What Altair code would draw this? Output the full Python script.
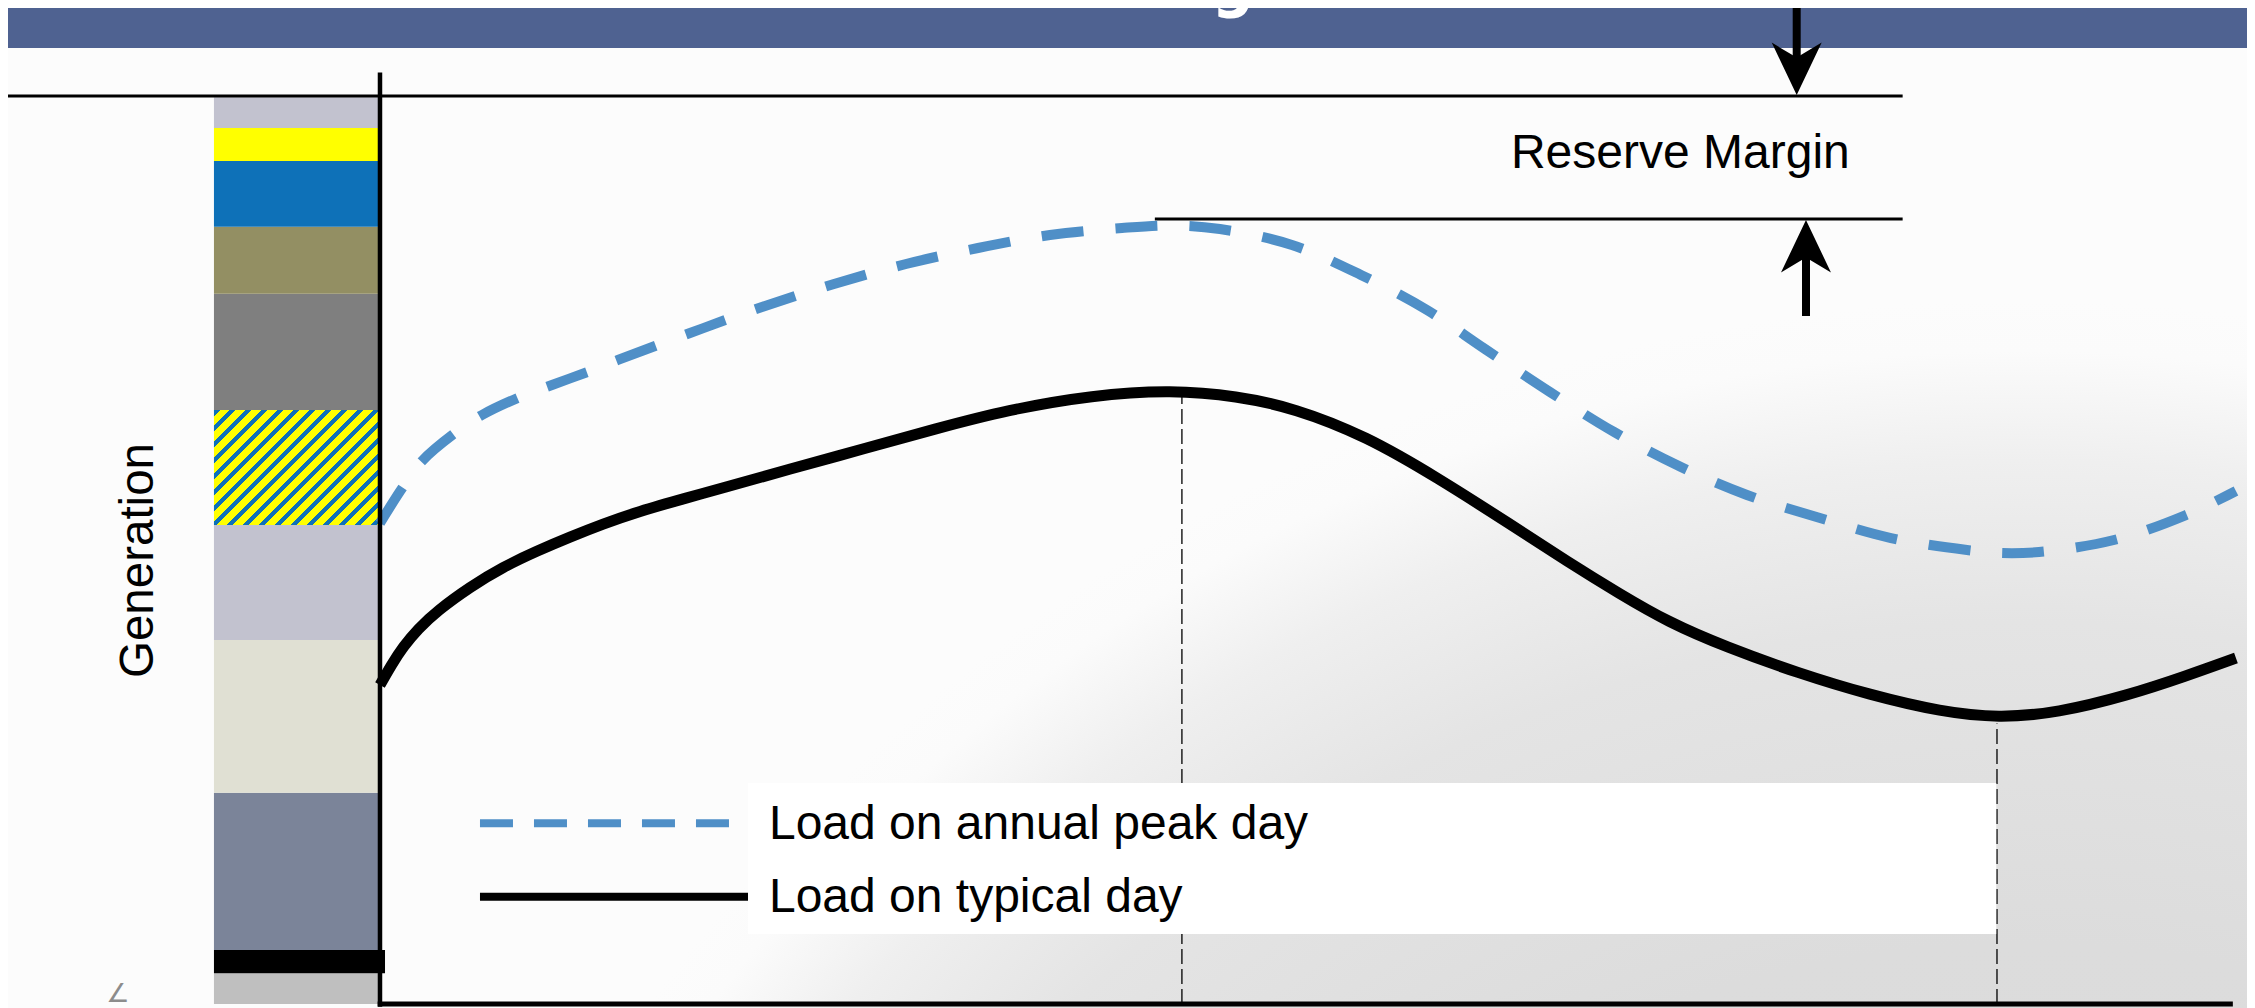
import altair as alt
import pandas as pd

# ---------------- drawing frame ----------------
W, H = 2239, 1000
# x = hour of the day, y = % of installed generating capacity
X_LO, X_HI = -4.8103, 24.143
Y_LO, Y_HI = -0.4405, 109.692
PX_PER_H = W / (X_HI - X_LO)
PX_PER_L = H / (Y_HI - Y_LO)

# ---------------- data ----------------
hours_peak = [0.0, 0.297, 0.543, 0.970, 1.319, 1.810, 2.224, 2.716, 3.078,
              4.009, 4.940, 5.871, 6.802, 7.733, 8.664, 9.595, 10.280, 10.862,
              11.793, 12.685, 13.539, 14.289, 15.129, 15.957, 16.797, 17.677,
              18.621, 19.539, 20.522, 20.948, 21.453, 22.422, 23.353, 24.0]
load_peak = [52.97, 56.94, 59.80, 62.89, 64.87, 66.85, 68.17, 69.71, 70.93,
             73.90, 76.76, 79.30, 81.50, 83.26, 84.69, 85.46, 85.74, 85.35,
             83.59, 80.29, 76.43, 72.14, 67.40, 63.00, 59.25, 56.06,
             53.52, 51.32, 50.00, 49.67, 49.78, 51.10, 53.85, 56.50]

hours_typical = [0.0, 0.155, 0.297, 0.491, 0.737, 1.164, 1.591, 2.030, 2.457, 2.884,
                 3.323, 4.009, 4.384, 5.302, 6.246, 7.177, 8.108, 9.220, 10.241,
                 11.082, 11.819, 12.750, 13.681, 14.612, 15.362, 16.034, 16.655,
                 17.405, 18.336, 19.267, 20.198, 20.935, 21.685, 22.616, 23.353, 24.0]
load_typical = [35.13, 37.44, 39.32, 41.30, 43.28, 45.93, 48.13, 49.89, 51.43, 52.86,
                54.19, 55.84, 56.72, 58.92, 61.12, 63.33, 65.42, 67.07, 67.62,
                66.96, 65.64, 62.56, 57.93, 52.86, 48.68, 45.15, 42.07,
                39.32, 36.45, 34.03, 32.16, 31.50, 32.05, 34.03, 36.12, 38.11]

# generation stack (bottom -> top), in % of capacity
stack_bottom = [0.0, 3.38, 5.95, 23.27, 40.09, 52.75, 65.42, 78.23, 85.61, 92.84, 96.48]
stack_top = [3.38, 5.95, 23.27, 40.09, 52.75, 65.42, 78.23, 85.61, 92.84, 96.48, 99.86]
stack_hatched = [False, False, False, False, False, True, False, False, False, False, False]
stack_right = [0.0, 0.065, 0.0, 0.0, 0.0, 0.0, 0.0, 0.0, 0.0, 0.0, 0.0]
stack_colors = ["#BFBFBF", "#000000", "#7B8499", "#E0E0D3", "#C2C2CF", "#FFFF00",
                "#7F7F7F", "#938F63", "#0E71B8", "#FFFF00", "#C2C2CF"]
STACK_LEFT = -2.147

# reference levels
capacity_level = 100.0       # installed capacity
peak_level = 86.45           # annual peak load
capacity_line_h = [-6.0, 19.69]
peak_line_h = [10.02, 19.69]
peak_hour_typical = 10.37
min_hour_typical = 20.91
drop_top = [66.9, 30.9]

# arrows (reserve margin)
arrow_h = [18.32, 18.44]
arrow_tip = [100.1, 86.34]
arrow_tail = [112.0, 75.77]

# legend
legend_box_h = [4.759, 20.90]
legend_box_l = [7.71, 24.34]
legend_sample_h = [1.293, 4.759]
legend_labels = ["Load on annual peak day", "Load on typical day"]
legend_sample_l = [19.90, 11.82]
legend_text_l = [18.17, 10.13]
legend_text_h = 5.03

title_text = "Load Forecasting \u2013 Conclusion"
banner_bottom = 105.29

# ---------------- styles ----------------
FONT = "Liberation Sans, Arial, sans-serif"
BLUE_LINE = "#4F8FC7"
BANNER = "#4F6291"

XS = alt.Scale(domain=[X_LO, X_HI], nice=False, zero=False)
YS = alt.Scale(domain=[Y_LO, Y_HI], nice=False, zero=False)


def X(f):
    return alt.X(f, type="quantitative", scale=XS, axis=None)


def Y(f):
    return alt.Y(f, type="quantitative", scale=YS, axis=None)


def rect_layer(df, **mark):
    return alt.Chart(df).mark_rect(**mark).encode(
        x=X("x1"), x2=alt.X2("x2"), y=Y("y1"), y2=alt.Y2("y2"))


def hrule(h1, h2, l, **mark):
    df = pd.DataFrame({"h1": [h1], "h2": [h2], "l": [l]})
    return alt.Chart(df).mark_rule(**mark).encode(x=X("h1"), x2=alt.X2("h2"), y=Y("l"))


def vrule(h, l1, l2, **mark):
    df = pd.DataFrame({"h": [h], "l1": [l1], "l2": [l2]})
    return alt.Chart(df).mark_rule(**mark).encode(x=X("h"), y=Y("l1"), y2=alt.Y2("l2"))


def text(h, l, s, **mark):
    df = pd.DataFrame({"h": [h], "l": [l], "t": [s]})
    return alt.Chart(df).mark_text(**mark).encode(x=X("h"), y=Y("l"), text="t:N")


# background: soft grey glow towards the lower right
bg_grad = {
    "gradient": "radial", "x1": 0.9, "y1": 1.164, "r1": 0,
    "x2": 0.9, "y2": 1.164, "r2": 0.757,
    "stops": [
        {"offset": 0.0, "color": "#D8D8D8"},
        {"offset": 0.62, "color": "#DCDCDC"},
        {"offset": 0.81, "color": "#E4E4E4"},
        {"offset": 0.905, "color": "#EFEFEF"},
        {"offset": 0.97, "color": "#FBFBFB"},
        {"offset": 1.0, "color": "#FCFCFC"},
    ],
}
background = rect_layer(pd.DataFrame({"x1": [X_LO], "x2": [X_HI], "y1": [Y_LO], "y2": [Y_HI]}),
                        fill=bg_grad, strokeWidth=0)

banner = rect_layer(pd.DataFrame({"x1": [X_LO - 1], "x2": [X_HI + 1],
                                  "y1": [banner_bottom], "y2": [Y_HI + 5]}),
                    color=BANNER, strokeWidth=0)
title = text(10.40, 110.13, title_text, font="Liberation Sans Narrow, DejaVu Sans Condensed, sans-serif",
             fontSize=66, fontWeight="bold", color="white", align="center", baseline="alphabetic")

# solid stack blocks
solid = pd.DataFrame({
    "x1": [STACK_LEFT] * len(stack_bottom), "x2": stack_right,
    "y1": stack_bottom, "y2": stack_top, "c": stack_colors, "hatch": stack_hatched})
solid_df = solid[~solid["hatch"]]
stack = alt.Chart(solid_df).mark_rect(strokeWidth=0).encode(
    x=X("x1"), x2=alt.X2("x2"), y=Y("y1"), y2=alt.Y2("y2"),
    color=alt.Color("c:N", scale=None))

# hatched block: diagonal yellow / blue stripes via a hard-stop linear gradient
hrow = solid[solid["hatch"]].iloc[0]
w_px = (hrow["x2"] - hrow["x1"]) * PX_PER_H
h_px = (hrow["y2"] - hrow["y1"]) * PX_PER_L
ratio = h_px / w_px
a = (1 + ratio) / (1 + ratio ** 2)
span_px = (w_px + h_px) / 2 ** 0.5
period = 11.3 / span_px
stops = []
t = 0.0
while t < 1.0 - 1e-9:
    b_end = min(t + 0.38 * period, 1.0)
    y_end = min(t + period, 1.0)
    stops += [{"offset": round(t, 5), "color": "#0E71B8"},
              {"offset": round(b_end, 5), "color": "#0E71B8"},
              {"offset": round(b_end, 5), "color": "#FFFF00"},
              {"offset": round(y_end, 5), "color": "#FFFF00"}]
    t += period
hatch_grad = {"gradient": "linear", "x1": 0, "y1": 0, "x2": a, "y2": a * ratio, "stops": stops}
hatched = rect_layer(pd.DataFrame({"x1": [hrow["x1"]], "x2": [hrow["x2"]],
                                   "y1": [hrow["y1"]], "y2": [hrow["y2"]]}),
                     fill=hatch_grad, strokeWidth=0)

# reference lines
cap_line = hrule(capacity_line_h[0], capacity_line_h[1], capacity_level, color="black", strokeWidth=3)
peak_line = hrule(peak_line_h[0], peak_line_h[1], peak_level, color="black", strokeWidth=3)
drop1 = vrule(peak_hour_typical, 0, drop_top[0], color="black", strokeWidth=1.3, strokeDash=[15, 5])
drop2 = vrule(min_hour_typical, 0, drop_top[1], color="black", strokeWidth=1.3, strokeDash=[15, 5])

# load curves
peak_curve = alt.Chart(pd.DataFrame({"h": hours_peak, "l": load_peak})).mark_line(
    color=BLUE_LINE, strokeWidth=10, strokeDash=[42, 32], interpolate="catmull-rom",
    strokeCap="butt").encode(x=X("h"), y=Y("l"))
typ_curve = alt.Chart(pd.DataFrame({"h": hours_typical, "l": load_typical})).mark_line(
    color="black", strokeWidth=11, interpolate="basis", strokeJoin="round").encode(x=X("h"), y=Y("l"))

# legend
legend_box = rect_layer(pd.DataFrame({"x1": [legend_box_h[0]], "x2": [legend_box_h[1]],
                                      "y1": [legend_box_l[0]], "y2": [legend_box_l[1]]}),
                        color="white", strokeWidth=0)
leg_peak = hrule(legend_sample_h[0], legend_sample_h[1], legend_sample_l[0],
                 color=BLUE_LINE, strokeWidth=8, strokeDash=[33, 21])
leg_typ = hrule(legend_sample_h[0], legend_sample_h[1], legend_sample_l[1],
                color="black", strokeWidth=8)
leg_t1 = text(legend_text_h, legend_text_l[0], legend_labels[0], font=FONT, fontSize=48,
              color="black", align="left", baseline="alphabetic")
leg_t2 = text(legend_text_h, legend_text_l[1], legend_labels[1], font=FONT, fontSize=48,
              color="black", align="left", baseline="alphabetic")

# axes
y_axis = vrule(0.0, -0.3, 102.6, color="black", strokeWidth=4.5)
x_axis = hrule(-0.03, 23.96, 0.0, color="black", strokeWidth=5)

# reserve margin arrows
NOTCH = 3.5
down_shaft = vrule(arrow_h[0], arrow_tail[0], arrow_tip[0] + NOTCH, color="black", strokeWidth=8)
up_shaft = vrule(arrow_h[1], arrow_tail[1], arrow_tip[1] - NOTCH, color="black", strokeWidth=8)
DOWN_HEAD = "M0,0 L-1,-2.1 L0,-1.5 L1,-2.1 Z"
UP_HEAD = "M0,0 L-1,2.1 L0,1.5 L1,2.1 Z"
down_head = alt.Chart(pd.DataFrame({"h": [arrow_h[0]], "l": [arrow_tip[0]]})).mark_point(
    shape=DOWN_HEAD, size=2500, filled=True, color="black", opacity=1, strokeWidth=0
).encode(x=X("h"), y=Y("l"))
up_head = alt.Chart(pd.DataFrame({"h": [arrow_h[1]], "l": [arrow_tip[1]]})).mark_point(
    shape=UP_HEAD, size=2500, filled=True, color="black", opacity=1, strokeWidth=0
).encode(x=X("h"), y=Y("l"))
reserve_txt = text(14.625, 92.10, "Reserve Margin", font=FONT, fontSize=48, color="black",
                   align="left", baseline="alphabetic")

gen_txt = text(-2.935, 48.84, "Generation", font=FONT, fontSize=47.5, color="black",
               align="center", baseline="alphabetic", angle=270)
corner_mark = text(-3.388, 0.22, "\u2220", font="DejaVu Sans", fontSize=26, color="#8C8C8C",
                   align="center", baseline="alphabetic")

chart = alt.layer(
    background, banner, title, stack, hatched, cap_line, peak_line, drop1, drop2,
    peak_curve, typ_curve, legend_box, leg_peak, leg_typ, leg_t1, leg_t2,
    y_axis, x_axis, down_shaft, up_shaft, down_head, up_head, reserve_txt,
    gen_txt, corner_mark,
).properties(
    width=W, height=H, padding=0, background="white",
    autosize=alt.AutoSizeParams(type="none"),
).configure_view(stroke=None)

chart.save("out.html", embed_options={"renderer": "svg", "actions": False})
